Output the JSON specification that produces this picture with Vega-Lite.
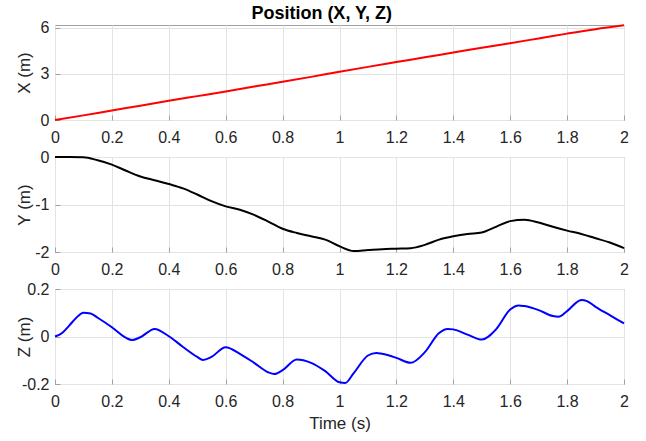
{
  "$schema": "https://vega.github.io/schema/vega-lite/v6.json",
  "background": "white",
  "padding": {"left": 14, "top": 5, "right": 5, "bottom": 5},
  "title": {"text": "Position (X, Y, Z)", "fontSize": 18, "fontWeight": "bold", "font": "Liberation Sans", "color": "#000000", "anchor": "middle", "offset": -4},
  "spacing": 37,
  "bounds": "flush",
  "config": {
    "font": "Liberation Sans",
    "view": {"stroke": "#a0a0a0", "strokeWidth": 1},
    "axis": {
      "labelFont": "Liberation Sans", "labelFontSize": 16, "labelColor": "#262626",
      "titleFont": "Liberation Sans", "titleFontSize": 17, "titleFontWeight": "normal", "titleColor": "#262626",
      "gridColor": "#e3e3e3", "gridWidth": 1, "domain": false, "ticks": true, "tickSize": -5, "tickColor": "#a0a0a0",
      "labelExpr": "replace(format(datum.value, '~g'), '\u2212', '-')"
    },
    "axisX": {"labelPadding": 14, "labelFlush": false},
    "axisY": {"labelPadding": 11, "titleX": -22}
  },
  "datasets": {
    "xs": [
      {"t": 0.0, "v": 0.0}, {"t": 0.1, "v": 0.3}, {"t": 0.2, "v": 0.62}, {"t": 0.3, "v": 0.93}, {"t": 0.4, "v": 1.25},
      {"t": 0.5, "v": 1.55}, {"t": 0.6, "v": 1.85}, {"t": 0.7, "v": 2.17}, {"t": 0.8, "v": 2.48}, {"t": 0.9, "v": 2.8},
      {"t": 1.0, "v": 3.13}, {"t": 1.1, "v": 3.45}, {"t": 1.2, "v": 3.76}, {"t": 1.3, "v": 4.07}, {"t": 1.4, "v": 4.38},
      {"t": 1.5, "v": 4.69}, {"t": 1.6, "v": 4.99}, {"t": 1.7, "v": 5.3}, {"t": 1.8, "v": 5.61}, {"t": 1.9, "v": 5.9},
      {"t": 2.0, "v": 6.15}
    ],
    "ys": [
      {"t": 0.0, "v": 0.0}, {"t": 0.05, "v": 0.0}, {"t": 0.1, "v": -0.005}, {"t": 0.15, "v": -0.07}, {"t": 0.2, "v": -0.16},
      {"t": 0.25, "v": -0.29}, {"t": 0.3, "v": -0.41}, {"t": 0.35, "v": -0.49}, {"t": 0.4, "v": -0.57}, {"t": 0.45, "v": -0.66},
      {"t": 0.5, "v": -0.79}, {"t": 0.55, "v": -0.93}, {"t": 0.6, "v": -1.04}, {"t": 0.65, "v": -1.11}, {"t": 0.7, "v": -1.22},
      {"t": 0.75, "v": -1.36}, {"t": 0.8, "v": -1.51}, {"t": 0.85, "v": -1.6}, {"t": 0.9, "v": -1.67}, {"t": 0.95, "v": -1.74},
      {"t": 1.0, "v": -1.88}, {"t": 1.05, "v": -1.98}, {"t": 1.1, "v": -1.96}, {"t": 1.15, "v": -1.94}, {"t": 1.2, "v": -1.93},
      {"t": 1.25, "v": -1.92}, {"t": 1.3, "v": -1.85}, {"t": 1.35, "v": -1.74}, {"t": 1.4, "v": -1.67}, {"t": 1.45, "v": -1.62},
      {"t": 1.5, "v": -1.59}, {"t": 1.55, "v": -1.47}, {"t": 1.6, "v": -1.35}, {"t": 1.65, "v": -1.32}, {"t": 1.7, "v": -1.38},
      {"t": 1.75, "v": -1.47}, {"t": 1.8, "v": -1.55}, {"t": 1.85, "v": -1.62}, {"t": 1.9, "v": -1.71}, {"t": 1.95, "v": -1.8},
      {"t": 2.0, "v": -1.92}
    ],
    "zs": [
      {"t": 0.0, "v": 0.0}, {"t": 0.025, "v": 0.015}, {"t": 0.05, "v": 0.046}, {"t": 0.075, "v": 0.079}, {"t": 0.1, "v": 0.1},
      {"t": 0.125, "v": 0.097}, {"t": 0.15, "v": 0.079}, {"t": 0.2, "v": 0.039}, {"t": 0.25, "v": -0.006}, {"t": 0.27, "v": -0.015},
      {"t": 0.3, "v": -0.003}, {"t": 0.35, "v": 0.032}, {"t": 0.4, "v": 0.001}, {"t": 0.45, "v": -0.044}, {"t": 0.5, "v": -0.086},
      {"t": 0.52, "v": -0.099}, {"t": 0.55, "v": -0.086}, {"t": 0.6, "v": -0.045}, {"t": 0.65, "v": -0.073}, {"t": 0.7, "v": -0.111},
      {"t": 0.75, "v": -0.151}, {"t": 0.77, "v": -0.158}, {"t": 0.8, "v": -0.142}, {"t": 0.85, "v": -0.097}, {"t": 0.9, "v": -0.111},
      {"t": 0.95, "v": -0.146}, {"t": 1.0, "v": -0.193}, {"t": 1.02, "v": -0.196}, {"t": 1.05, "v": -0.154}, {"t": 1.1, "v": -0.08},
      {"t": 1.13, "v": -0.069}, {"t": 1.15, "v": -0.073}, {"t": 1.2, "v": -0.09}, {"t": 1.25, "v": -0.111}, {"t": 1.3, "v": -0.066},
      {"t": 1.35, "v": 0.015}, {"t": 1.38, "v": 0.032}, {"t": 1.4, "v": 0.03}, {"t": 1.45, "v": 0.008}, {"t": 1.5, "v": -0.013},
      {"t": 1.55, "v": 0.03}, {"t": 1.6, "v": 0.114}, {"t": 1.63, "v": 0.131}, {"t": 1.65, "v": 0.128}, {"t": 1.7, "v": 0.111},
      {"t": 1.75, "v": 0.086}, {"t": 1.77, "v": 0.083}, {"t": 1.8, "v": 0.107}, {"t": 1.85, "v": 0.154}, {"t": 1.87, "v": 0.149},
      {"t": 1.9, "v": 0.125}, {"t": 1.95, "v": 0.09}, {"t": 2.0, "v": 0.055}
    ]
  },
  "vconcat": [
    {
      "width": 569, "height": 95,
      "data": {"name": "xs"},
      "mark": {"type": "line", "color": "#ff0000", "strokeWidth": 2, "interpolate": "monotone"},
      "encoding": {
        "x": {"field": "t", "type": "quantitative", "scale": {"domain": [0, 2], "nice": false}, "axis": {"title": null, "values": [0, 0.2, 0.4, 0.6, 0.8, 1, 1.2, 1.4, 1.6, 1.8, 2]}},
        "y": {"field": "v", "type": "quantitative", "scale": {"domain": [0, 6.17], "nice": false, "zero": false}, "axis": {"title": "X (m)", "values": [0, 3, 6]}}
      }
    },
    {
      "width": 569, "height": 95,
      "data": {"name": "ys"},
      "mark": {"type": "line", "color": "#000000", "strokeWidth": 2, "interpolate": "monotone"},
      "encoding": {
        "x": {"field": "t", "type": "quantitative", "scale": {"domain": [0, 2], "nice": false}, "axis": {"title": null, "values": [0, 0.2, 0.4, 0.6, 0.8, 1, 1.2, 1.4, 1.6, 1.8, 2]}},
        "y": {"field": "v", "type": "quantitative", "scale": {"domain": [-2, 0], "nice": false, "zero": false}, "axis": {"title": "Y (m)", "values": [-2, -1, 0]}}
      }
    },
    {
      "width": 569, "height": 95,
      "data": {"name": "zs"},
      "mark": {"type": "line", "color": "#0000ff", "strokeWidth": 2, "interpolate": "monotone"},
      "encoding": {
        "x": {"field": "t", "type": "quantitative", "scale": {"domain": [0, 2], "nice": false}, "axis": {"title": "Time (s)", "titlePadding": 6, "values": [0, 0.2, 0.4, 0.6, 0.8, 1, 1.2, 1.4, 1.6, 1.8, 2]}},
        "y": {"field": "v", "type": "quantitative", "scale": {"domain": [-0.2, 0.2], "nice": false, "zero": false}, "axis": {"title": "Z (m)", "values": [-0.2, 0, 0.2]}}
      }
    }
  ]
}
